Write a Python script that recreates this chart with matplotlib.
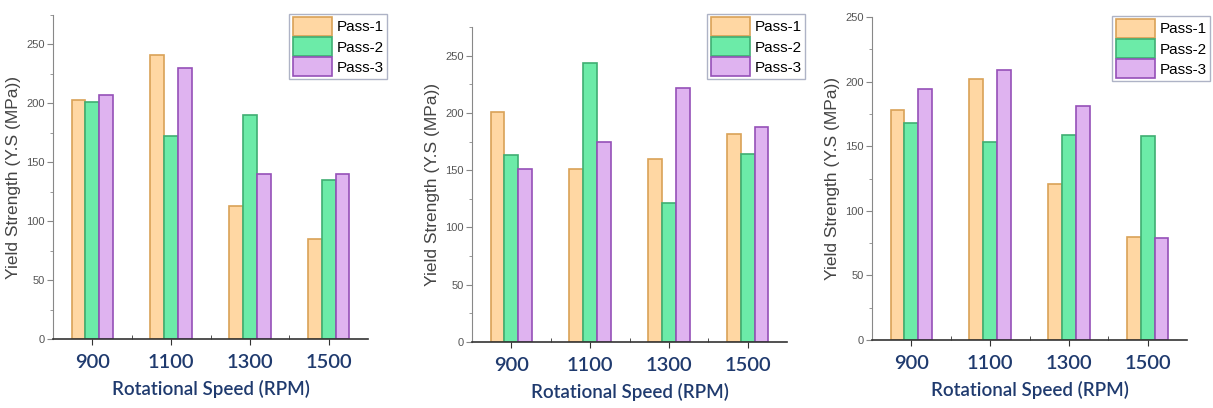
import matplotlib.pyplot as plt
import numpy as np

# data
speeds = ['900', '1100', '1300', '1500']
passes = ['Pass-1', 'Pass-2', 'Pass-3']

panel1_pass1 = [203, 241, 113, 85]
panel1_pass2 = [201, 172, 190, 135]
panel1_pass3 = [207, 230, 140, 140]

panel2_pass1 = [201, 151, 160, 182]
panel2_pass2 = [163, 244, 121, 164]
panel2_pass3 = [151, 175, 222, 188]

panel3_pass1 = [178, 202, 121, 80]
panel3_pass2 = [168, 153, 159, 158]
panel3_pass3 = [194, 209, 181, 79]

panels = [
    (panel1_pass1, panel1_pass2, panel1_pass3),
    (panel2_pass1, panel2_pass2, panel2_pass3),
    (panel3_pass1, panel3_pass2, panel3_pass3),
]
ylims = [275, 275, 250]

W, H = 1213, 408
# axes boxes in pixels: left, right, bottom(zero line), top
boxes = [(53, 368, 339, 15), (472, 787, 342, 27), (872, 1187, 340, 17)]
# legend upper-right corner in pixels
legend_corners = [(387, 14), (805, 14), (1210, 16)]

fills = ['#FFD7A3', '#6CEBA8', '#DFB3F0']
edges = ['#D9A257', '#3FAE72', '#9550B8']

navy = '#1F3A6E'
grey = '#555555'

plt.rcParams['font.family'] = ['Liberation Sans', 'DejaVu Sans']

fig = plt.figure(figsize=(W / 100, H / 100), dpi=100)

x = np.arange(len(speeds))
width = 0.175

for series, box, ymax, corner in zip(panels, boxes, ylims, legend_corners):
  left, right, bottom, top = box
  ax = fig.add_axes([left / W, 1 - bottom / H, (right - left) / W, (bottom - top) / H])

  for i, vals in enumerate(series):
    ax.bar(x + (i - 1) * width, vals, width, color=fills[i], edgecolor=edges[i],
           linewidth=1.2, label=passes[i], zorder=2)

  ax.set_xlim(-0.5, 3.5)
  ax.set_ylim(0, ymax)
  ax.set_yticks(np.arange(0, ymax + 1, 50))
  ax.set_yticks(np.arange(25, ymax + 1, 50), minor=True)
  ax.set_xticks(x)
  ax.set_xticks(x[:-1] + 0.5, minor=True)
  ax.set_xticklabels(speeds)

  ax.spines['top'].set_visible(False)
  ax.spines['right'].set_visible(False)
  ax.spines['left'].set_color('#888888')
  ax.spines['bottom'].set_color('#333333')
  ax.spines['bottom'].set_linewidth(1.2)

  ax.tick_params(axis='y', which='major', length=4, color='#888888',
                 labelsize=8, labelcolor=grey, pad=2)
  ax.tick_params(axis='y', which='minor', length=2, color='#888888')
  ax.tick_params(axis='x', which='major', length=4, color='#333333',
                 labelsize=14.5, labelcolor=navy, pad=7)
  ax.tick_params(axis='x', which='minor', direction='in', length=3, color='#333333')
  for lab in ax.get_xticklabels():
    lab.set_family('Lato')
    lab.set_fontweight('semibold')

  ax.set_xlabel('Rotational Speed (RPM)', fontsize=13.5, color=navy,
                family='Lato', fontweight='semibold', labelpad=6)
  ax.set_ylabel('Yield Strength (Y.S (MPa))', fontsize=12.5, color='#444444',
                labelpad=4)

  ax.legend(loc='upper right', bbox_to_anchor=(corner[0] / W, 1 - corner[1] / H),
            bbox_transform=fig.transFigure, fontsize=11, frameon=True,
            fancybox=False, edgecolor='#9AA0B8', handlelength=2.6, handleheight=1.5,
            handletextpad=0.3, labelspacing=0.1, borderpad=0.2, borderaxespad=0)

fig.savefig('out.png', dpi=100)
